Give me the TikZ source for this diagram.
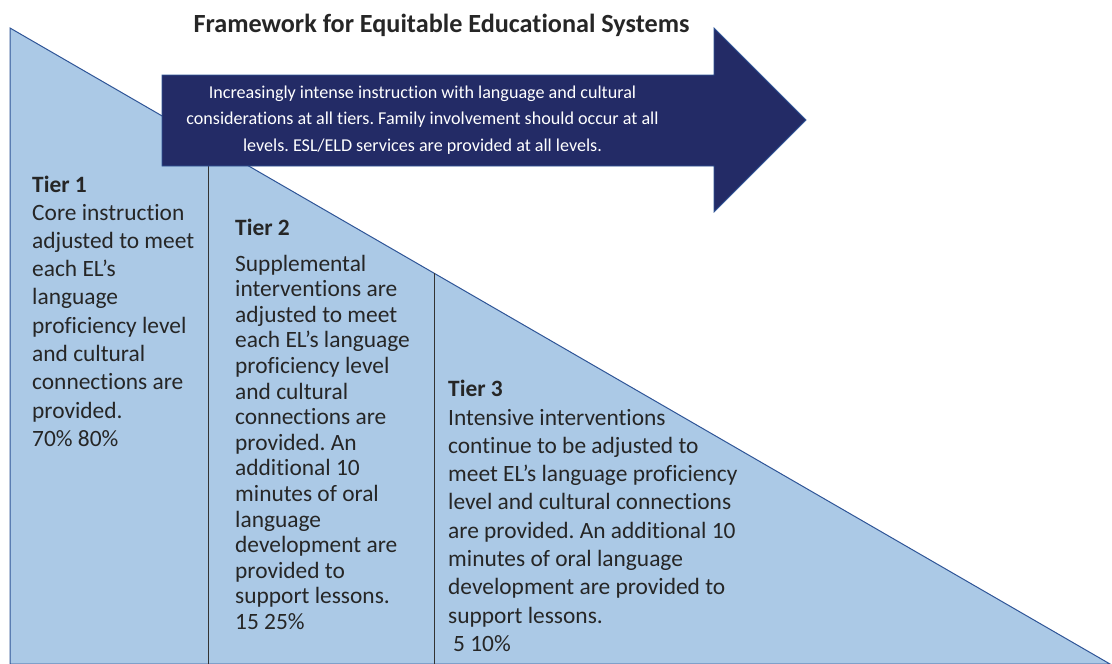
\documentclass[tikz,border=0pt]{standalone}
\usepackage{fontspec}
\setmainfont{Carlito}[Ligatures={NoCommon}]
\frenchspacing
\definecolor{tierfill}{HTML}{ABC9E6}
\definecolor{tierline}{HTML}{2F5597}
\definecolor{navy}{HTML}{232B66}
\definecolor{textdark}{HTML}{262626}
\definecolor{divline}{HTML}{333333}
\tikzset{
  pyramid/.style={fill=tierfill, draw=tierline, line width=1pt},
  banner/.style={fill=navy, draw=tierline, line width=0.8pt},
  divider/.style={draw=divline, line width=1pt},
  tierhead/.style={anchor=base west, inner sep=0pt, text=textdark, font=\fontsize{23.4}{28.3}\selectfont\bfseries},
  tierbody/.style={anchor=base west, inner sep=0pt, text=textdark},
}
\begin{document}
\begin{tikzpicture}[x=1pt,y=-1pt]
\useasboundingbox (0,0) rectangle (1112,664);
\fill[white] (0,0) rectangle (1112,664);
% triangle
\draw[pyramid] (10,28) -- (1110,664) -- (10,664) -- cycle;
% dividers
\coordinate (d1top) at (208,166);
\coordinate (d1bot) at (208,664);
\coordinate (d2top) at (434,273);
\coordinate (d2bot) at (434,664);
\draw[divider] (d1top) -- (d1bot);
\draw[divider] (d2top) -- (d2bot);
% arrow
\draw[banner] (162,75) -- (714,75) -- (714,28) -- (806,120) -- (714,212) -- (714,166) -- (162,166) -- cycle;
% title
\node[anchor=base, inner sep=0pt, text=textdark, font=\fontsize{26.2}{30}\selectfont\bfseries] (title) at (441.5,32) {Framework for Equitable Educational Systems};
% arrow text
\node[anchor=base, inner sep=0pt, text=white] (arrowtext) at (422.5,98) {\parbox[t]{540pt}{\fontsize{18.1}{26.7}\selectfont\centering
Increasingly intense instruction with language and cultural\\
considerations at all tiers. Family involvement should occur at all\\
levels. ESL/ELD services are provided at all levels.}};
% tier 1
\node[tierhead] (t1h) at (32,192) {Tier 1};
\node[tierbody] (t1b) at (32,220) {\parbox[t]{175pt}{\fontsize{23.4}{28.3}\selectfont\raggedright
Core instruction\\
adjusted to meet\\
each EL’s\\
language\\
proficiency level\\
and cultural\\
connections are\\
provided.\\
70\% 80\%}};
% tier 2
\node[tierhead] (t2h) at (235,235) {Tier 2};
\node[tierbody] (t2b) at (235,271) {\parbox[t]{195pt}{\fontsize{23.4}{25.6}\selectfont\raggedright
Supplemental\\
interventions are\\
adjusted to meet\\
each EL’s language\\
proficiency level\\
and cultural\\
connections are\\
provided. An\\
additional 10\\
minutes of oral\\
language\\
development are\\
provided to\\
support lessons.\\
15 25\%}};
% tier 3
\node[tierhead] (t3h) at (448,396) {Tier 3};
\node[tierbody] (t3b) at (448,425) {\parbox[t]{340pt}{\fontsize{23.4}{28.3}\selectfont\raggedright
Intensive interventions\\
continue to be adjusted to\\
meet EL’s language proficiency\\
level and cultural connections\\
are provided. An additional 10\\
minutes of oral language\\
development are provided to\\
support lessons.\\
\hspace*{5pt}5 10\%}};
\end{tikzpicture}
\end{document}
